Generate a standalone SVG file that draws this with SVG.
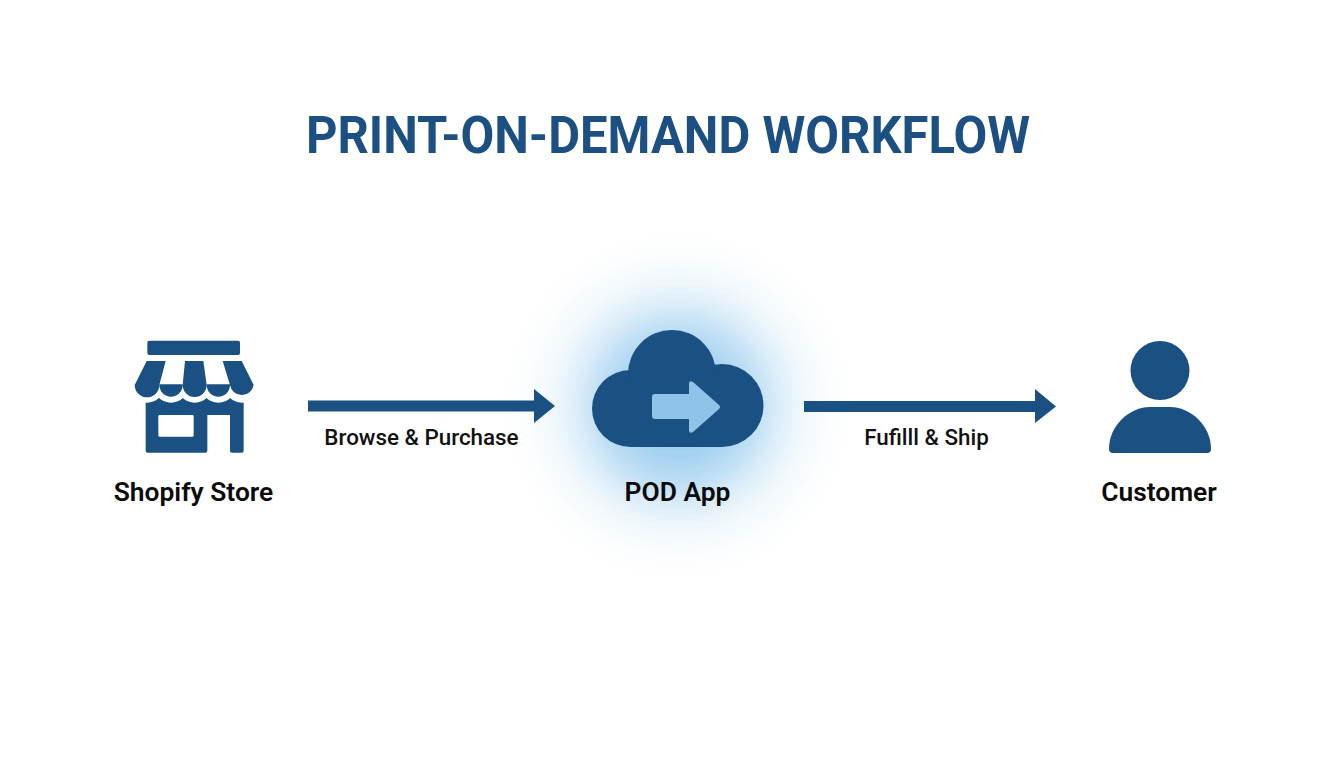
<svg xmlns="http://www.w3.org/2000/svg" width="1344" height="768" viewBox="0 0 1344 768">
<style>
.ic{fill:#1a5082}
.lab{font-family:Roboto,"Liberation Sans",sans-serif;font-weight:600;font-size:26.400px;fill:#0b0b0b;text-anchor:middle}
.edge{font-family:Roboto,"Liberation Sans",sans-serif;font-weight:500;font-size:22.400px;fill:#111;text-anchor:middle}
.title{font-family:Roboto,"Liberation Sans",sans-serif;font-weight:700;font-size:52.700px;fill:#1c4f82;text-anchor:middle}
</style>
<defs>
<radialGradient id="glow" gradientUnits="userSpaceOnUse" cx="678" cy="405" r="175">
<stop offset="0" stop-color="#8cc6ee"/>
<stop offset="0.3" stop-color="#a6d2f1"/>
<stop offset="0.45" stop-color="#bfdff5"/>
<stop offset="0.58" stop-color="#dcedf9"/>
<stop offset="0.72" stop-color="#f1f8fc"/>
<stop offset="0.87" stop-color="#fbfdfe"/>
<stop offset="1" stop-color="#ffffff"/>
</radialGradient>
</defs>
<rect width="1344" height="768" fill="#fff"/>
<text id="title" class="title" transform="translate(668 153.300) scale(.93 1)">PRINT-ON-DEMAND WORKFLOW</text>
<g id="shopify-store">
<g transform="translate(100 320) scale(.33333)">
<rect class="ic" x="142" y="62" width="278" height="43" rx="6"/>
<path class="ic" d="M137 234H431V392Q431 398 425 398H396Q390 398 390 392V285H322V392Q322 398 316 398H143Q137 398 137 392Z"/>
<g fill="#fff">
<circle cx="141" cy="195" r="53"/><circle cx="213" cy="195" r="53"/><circle cx="284" cy="195" r="53"/><circle cx="355" cy="195" r="53"/><circle cx="426" cy="195" r="53"/>
</g>
<rect fill="#fff" x="175" y="285" width="106" height="65" rx="4"/>
<path class="ic" d="M140 123H197L178 195A37 37 0 0 1 104 195Z"/>
<path class="ic" d="M255 123H310L320 195A36 36 0 0 1 248 195Z"/>
<path class="ic" d="M368 123H425L461 195A36 36 0 0 1 390 195Z"/>
<path class="ic" d="M178 193H248V195A35 35 0 0 1 178 195Z"/>
<path class="ic" d="M320 193H390V195A35 35 0 0 1 320 195Z"/>
</g>
<text class="lab" x="193.500" y="500.500">Shopify Store</text>
</g>
<g id="pod-app">
<circle cx="678" cy="405" r="175" fill="url(#glow)"/>
<g class="ic">
<circle cx="630.500" cy="408.500" r="38.500"/>
<circle cx="722" cy="405.500" r="41.500"/>
<circle cx="672" cy="374" r="44"/>
<rect x="630" y="380" width="92" height="67"/>
</g>
<path fill="#8fc4e8" d="M655 394H689V383Q690 380 693 382L719 405Q721 407 719 409L693 432Q690 434 689 431V419H655Q652 419 652 416V397Q652 394 655 394Z"/>
<text class="lab" x="677.500" y="500.500">POD App</text>
</g>
<g id="customer">
<circle class="ic" cx="1160" cy="370.500" r="29.500"/>
<path class="ic" d="M1109 449C1109 425 1130 407 1150 407H1170C1190 407 1211 425 1211 449Q1211 453 1207 453H1113Q1109 453 1109 449Z"/>
<text class="lab" x="1159" y="500.500">Customer</text>
</g>
<g id="connectors">
<path class="ic" d="M308 400.500H534V389L555 406L534 423V411.500H308Z"/>
<path class="ic" d="M804 401H1035V389L1056 406.500L1035 423V412H804Z"/>
<text class="edge" x="421.500" y="445">Browse &amp; Purchase</text>
<text class="edge" x="926.500" y="445">Fufilll &amp; Ship</text>
</g>
</svg>
